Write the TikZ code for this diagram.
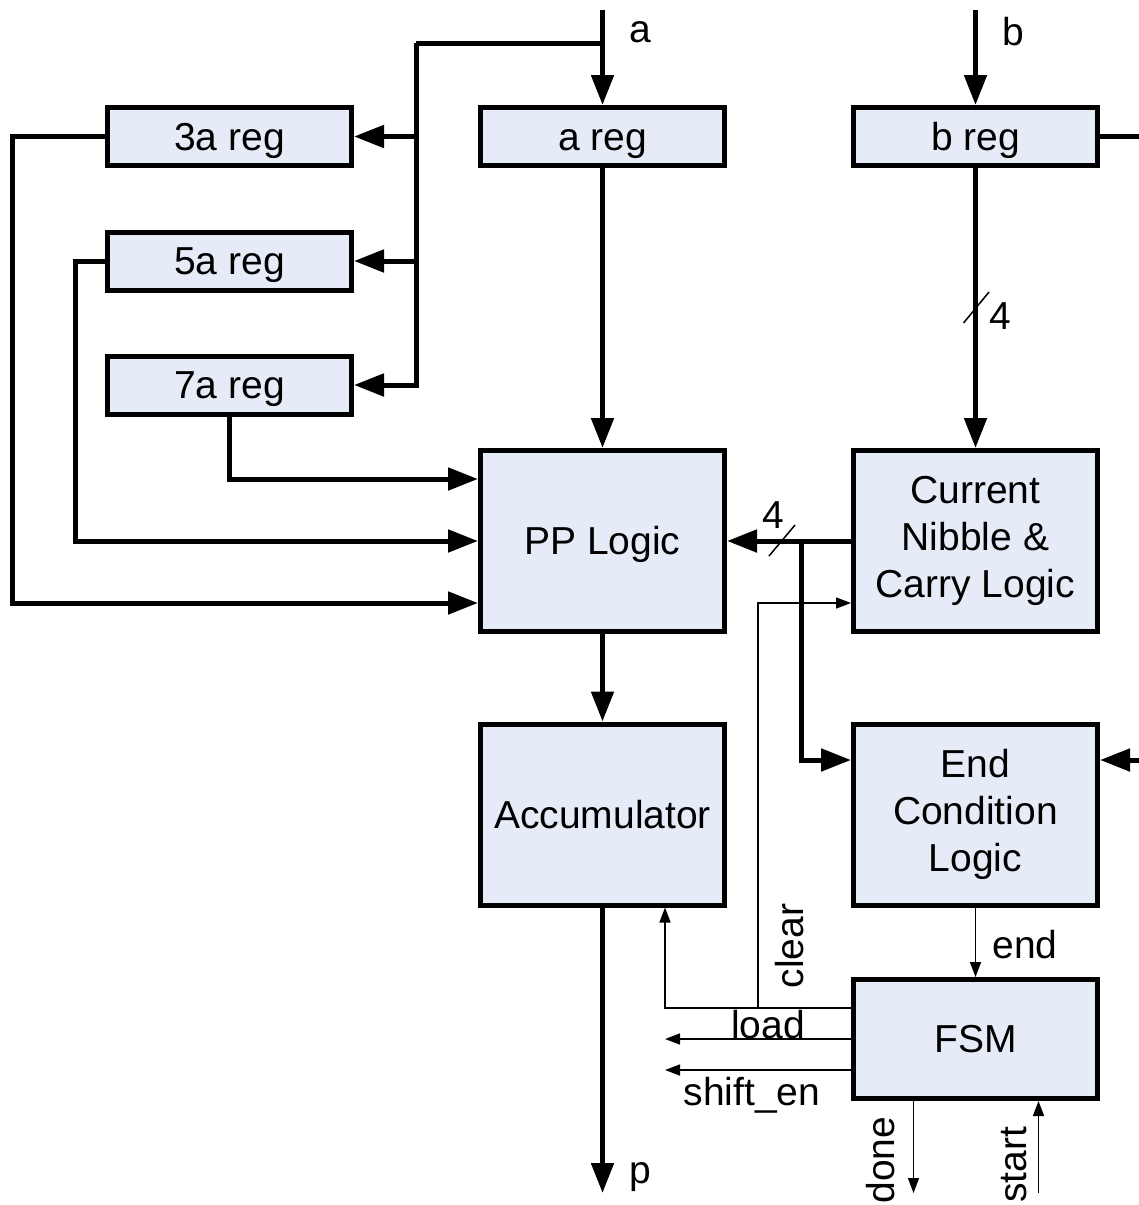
\documentclass[tikz,border=0pt]{standalone}
\usepackage{fontspec}
\setmainfont{Liberation Sans}
\usetikzlibrary{arrows.meta}
\definecolor{boxfill}{HTML}{E6ECF7}
\begin{document}
\begin{tikzpicture}[x=1pt,y=-1pt,
 blk/.style={draw,line width=5pt,fill=boxfill,minimum width=244pt,minimum height=58pt,inner sep=0pt,font=\fontsize{39}{47}\selectfont,align=center},
 one/.style={text height=27pt,text depth=0pt},
 big/.style={blk,minimum height=181pt},
 bus/.style={line width=5pt,-{Triangle[length=30pt,width=22pt]}},
 busl/.style={line width=5pt},
 sig/.style={line width=1.5pt,-{Triangle[length=15pt,width=11pt]}},
 lbl/.style={font=\fontsize{39}{47}\selectfont,inner sep=0pt},
 slash/.style={line width=1.5pt}]
\useasboundingbox (0,0) rectangle (1139,1205);
% blocks
\node[blk,one] (r3) at (229.5,136.5) {3a reg};
\node[blk,one] (areg) at (602.5,136.5) {a reg};
\node[blk,one] (breg) at (975.5,136.5) {b reg};
\node[blk,one] (r5) at (229.5,261) {5a reg};
\node[blk,one] (r7) at (229.5,385) {7a reg};
\node[big,one] (pp) at (602.5,541) {PP Logic};
\node[big] (cn) at (975.5,541) {Current\\Nibble \&\\Carry Logic};
\node[big,one] (acc) at (602.5,814.5) {Accumulator};
\node[big] (ec) at (975.5,814.5) {End\\Condition\\Logic};
\node[blk,one,minimum height=119pt] (fsm) at (975.5,1039) {FSM};
% coordinates
\coordinate (ain) at (602.5,10);
\coordinate (abr) at (602.5,43);
\coordinate (acol) at (416,43);
\coordinate (a3) at (416,136.5);
\coordinate (a5) at (416,261);
\coordinate (bin) at (975.5,10);
\coordinate (bout) at (1139,136.5);
\coordinate (jn) at (801,541);
\coordinate (ecin) at (1139,760);
\coordinate (pout) at (602.5,1193);
\coordinate (clj) at (758,1008);
\coordinate (ldout) at (665,1039);
\coordinate (shout) at (665,1070);
\coordinate (doneout) at (913.5,1193);
\coordinate (startin) at (1038.5,1193);
% a input and multiples
\draw[bus] (ain) -- (areg.north);
\draw[busl] (abr) -- (acol);
\draw[bus] (acol) |- (r7.east);
\draw[bus] (a3) -- (r3.east);
\draw[bus] (a5) -- (r5.east);
\draw[bus] (r3.west) -- ++(-93,0) |- ([yshift=-62pt]pp.west);
\draw[bus] (r5.west) -- ++(-30,0) |- (pp.west);
\draw[bus] (r7.south) |- ([yshift=62pt]pp.west);
\draw[bus] (areg.south) -- (pp.north);
% b path
\draw[bus] (bin) -- (breg.north);
\draw[busl] (breg.east) -- (bout);
\draw[bus] (breg.south) -- (cn.north);
\draw[slash] (963.5,323) -- (989,292);
\node[lbl] (four1) at (1000,316) {4};
\draw[bus] (cn.west) -- (pp.east);
\draw[slash] (769,556) -- (795,525);
\node[lbl] (four2) at (773,515) {4};
\draw[bus] (jn) |- ([yshift=54.5pt]ec.west);
\draw[bus] (ecin) -- ([yshift=54.5pt]ec.east);
\draw[bus] (pp.south) -- (acc.north);
\draw[bus] (acc.south) -- (pout);
% control signals
\draw[sig] (ec.south) -- (fsm.north);
\draw[sig] ([yshift=31pt]fsm.west) -| ([xshift=62.5pt]acc.south);
\draw[sig] (clj) |- ([yshift=-62pt]cn.west);
\draw[sig] (fsm.west) -- (ldout);
\draw[sig] ([yshift=-31pt]fsm.west) -- (shout);
\draw[sig] ([xshift=-62pt]fsm.south) -- (doneout);
\draw[sig] (startin) -- ([xshift=63pt]fsm.south);
% labels
\node[lbl] (la) at (640,32) {a};
\node[lbl] (lb) at (1013,32) {b};
\node[lbl] (lp) at (640,1177) {p};
\node[lbl] (lend) at (1025,945) {end};
\node[lbl,rotate=90] (lclear) at (790,946) {clear};
\node[lbl] (lload) at (768,1025) {load};
\node[lbl] (lshift) at (752,1095) {shift\_en};
\node[lbl,rotate=90] (ldone) at (881,1160) {done};
\node[lbl,rotate=90] (lstart) at (1014,1165) {start};
\end{tikzpicture}
\end{document}
